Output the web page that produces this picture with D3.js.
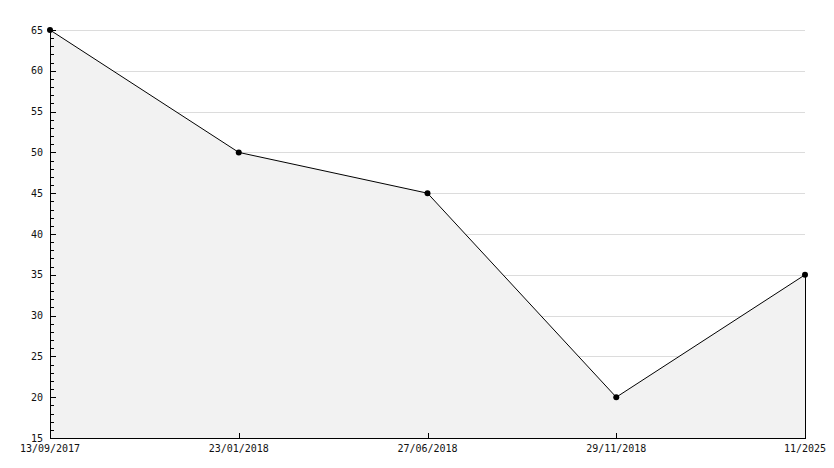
<!DOCTYPE html>
<html>
<head>
<meta charset="utf-8">
<script src="https://cdn.jsdelivr.net/npm/d3@7"></script>
<style>
  body { margin: 0; background: #fff; }
  text { font-family: "DejaVu Sans Mono", monospace; font-size: 10px; fill: #111; }
</style>
</head>
<body>
<div id="chart"></div>
<script>
var dates = ["13/09/2017", "23/01/2018", "27/06/2018", "29/11/2018", "11/2025"];
var values = [65, 50, 45, 20, 35];
var yTicks = [15, 20, 25, 30, 35, 40, 45, 50, 55, 60, 65];

var width = 834, height = 468;
var margin = {top: 30, right: 29, bottom: 30, left: 50};

var svg = d3.select("#chart")
    .append("svg")
    .attr("width", width)
    .attr("height", height);

var x = d3.scalePoint()
    .domain(dates)
    .range([margin.left, width - margin.right]);

var y = d3.scaleLinear()
    .domain([15, 65])
    .range([height - margin.bottom, margin.top]);

var data = dates.map(function (d, i) { return {date: d, value: values[i]}; });

// grid lines
svg.append("g")
    .selectAll("line")
    .data(yTicks)
    .enter()
    .append("line")
    .attr("x1", margin.left)
    .attr("x2", width - margin.right)
    .attr("y1", function (d) { return Math.round(y(d)) + 0.5; })
    .attr("y2", function (d) { return Math.round(y(d)) + 0.5; })
    .attr("stroke", "#dcdcdc")
    .attr("stroke-width", 1);

// area under the line
var area = d3.area()
    .x(function (d) { return x(d.date); })
    .y0(y(15))
    .y1(function (d) { return y(d.value); });

svg.append("path")
    .datum(data)
    .attr("d", area)
    .attr("fill", "#f2f2f2");

// right edge of the area
svg.append("line")
    .attr("x1", x(dates[dates.length - 1]) + 0.5)
    .attr("x2", x(dates[dates.length - 1]) + 0.5)
    .attr("y1", y(values[values.length - 1]))
    .attr("y2", y(15))
    .attr("stroke", "#000");

var line = d3.line()
    .x(function (d) { return x(d.date); })
    .y(function (d) { return y(d.value); });

svg.append("path")
    .datum(data)
    .attr("d", line)
    .attr("fill", "none")
    .attr("stroke", "#000")
    .attr("stroke-width", 1);

// y axis with major and minor ticks on the inside
var yAxis = svg.append("g");
yAxis.append("line")
    .attr("x1", margin.left + 0.5).attr("x2", margin.left + 0.5)
    .attr("y1", y(65)).attr("y2", y(15) + 0.5)
    .attr("stroke", "#000");

var minor = d3.range(15, 66, 1);
yAxis.selectAll("line.tick")
    .data(minor)
    .enter()
    .append("line")
    .attr("class", "tick")
    .attr("x1", margin.left)
    .attr("x2", function (d) { return margin.left + (d % 5 === 0 ? 6 : 4); })
    .attr("y1", function (d) { return Math.round(y(d)) + 0.5; })
    .attr("y2", function (d) { return Math.round(y(d)) + 0.5; })
    .attr("stroke", "#000");

yAxis.selectAll("text")
    .data(yTicks)
    .enter()
    .append("text")
    .attr("x", margin.left - 7)
    .attr("y", function (d) { return y(d); })
    .attr("dy", "0.35em")
    .attr("text-anchor", "end")
    .text(function (d) { return d; });

// x axis
var xAxis = svg.append("g");
xAxis.append("line")
    .attr("x1", margin.left).attr("x2", width - margin.right + 1)
    .attr("y1", y(15) + 0.5).attr("y2", y(15) + 0.5)
    .attr("stroke", "#000");

xAxis.selectAll("line.tick")
    .data(dates)
    .enter()
    .append("line")
    .attr("class", "tick")
    .attr("x1", function (d) { return Math.round(x(d)) + 0.5; })
    .attr("x2", function (d) { return Math.round(x(d)) + 0.5; })
    .attr("y1", y(15))
    .attr("y2", y(15) - 5)
    .attr("stroke", "#000");

xAxis.selectAll("text")
    .data(dates)
    .enter()
    .append("text")
    .attr("x", function (d) { return x(d); })
    .attr("y", y(15) + 14)
    .attr("text-anchor", "middle")
    .text(function (d) { return d; });

// point markers
svg.append("g")
    .selectAll("circle")
    .data(data)
    .enter()
    .append("circle")
    .attr("cx", function (d) { return x(d.date); })
    .attr("cy", function (d) { return y(d.value); })
    .attr("r", 3)
    .attr("fill", "#000");
</script>
</body>
</html>
